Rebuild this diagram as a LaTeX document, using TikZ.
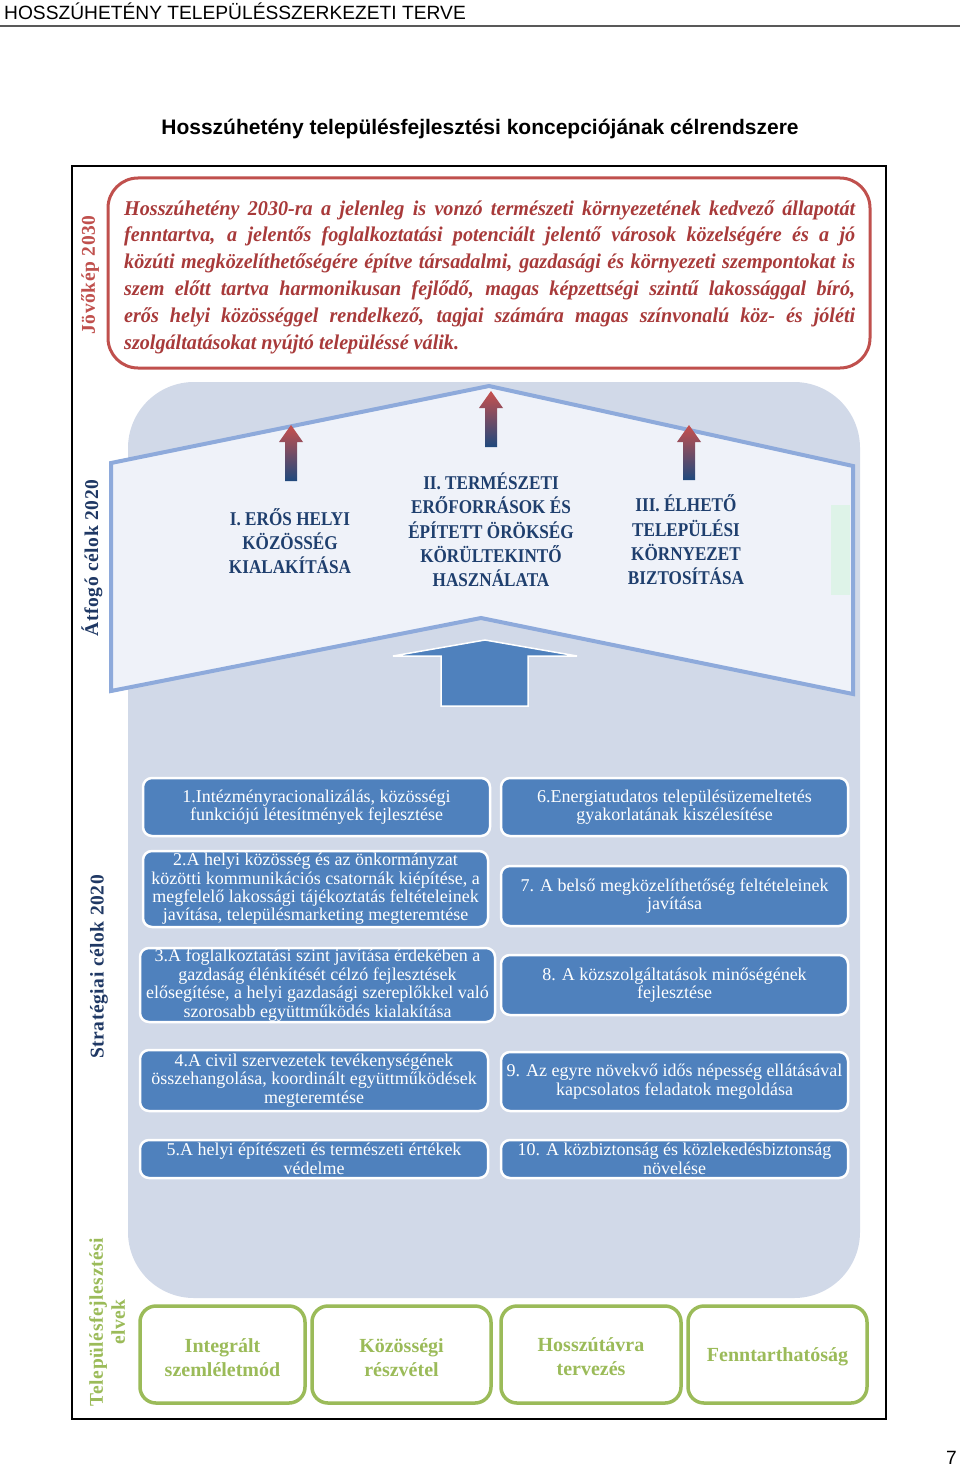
\documentclass[tikz,border=0pt]{standalone}
\usepackage{fontspec}
\setmainfont{Liberation Serif}
\newfontfamily\hdrfont{Liberation Sans}
\newfontfamily\lblfont[LetterSpace=3]{Liberation Serif}
\newfontfamily\objfont[FakeStretch=0.88]{Liberation Serif}
\newfontfamily\visfont[FakeStretch=0.96]{Liberation Serif}
\definecolor{bgblue}{HTML}{D1D9E8}
\definecolor{housefill}{HTML}{EFF2F9}
\definecolor{houseline}{HTML}{8EAADB}
\definecolor{boxblue}{HTML}{4F81BD}
\definecolor{visred}{HTML}{C0504D}
\definecolor{vistext}{HTML}{A83A3A}
\definecolor{navy}{HTML}{1F3F6E}
\definecolor{labnavy}{HTML}{1F3864}
\definecolor{grn}{HTML}{9BBB59}
\definecolor{arrred}{HTML}{C8504D}
\definecolor{arrblue}{HTML}{1F497D}
\begin{document}
\begin{tikzpicture}[x=1pt,y=-1pt,
  hdr/.style={inner sep=0pt, font=\hdrfont\fontsize{19.2}{22}\selectfont},
  ttl/.style={inner sep=0pt, font=\hdrfont\bfseries\fontsize{21}{24}\selectfont},
  lbl/.style={inner sep=0pt, rotate=90, align=center, font=\lblfont\bfseries\fontsize{19.5}{22}\selectfont},
  obj/.style={inner sep=0pt, align=center, text=navy, font=\objfont\bfseries\fontsize{19.5}{24.3}\selectfont},
  sbox/.style={draw=white, line width=2.5pt, fill=boxblue, rounded corners=9pt, text=white, align=center, inner sep=1pt, font=\fontsize{18}{18.4}\selectfont},
  pbox/.style={draw=grn, line width=3.5pt, fill=white, rounded corners=16pt, text=grn, align=center, inner sep=1pt, font=\bfseries\fontsize{20}{24}\selectfont, minimum height=97pt},
  ptext/.style={text=grn, align=center, inner sep=0pt, font=\bfseries\fontsize{20}{24}\selectfont},
  redarr/.style={top color=arrred, bottom color=arrblue}
]
\useasboundingbox (0,0) rectangle (960,1466);
\fill[white] (0,0) rectangle (960,1466);

% header
\node[hdr, anchor=base west] (hdr) at (4,20) {HOSSZÚHETÉNY TELEPÜLÉSSZERKEZETI TERVE};
\draw[black!65, line width=1.2pt] (0,26) -- (960,26);
\node[ttl, anchor=base] (title) at (480,135) {Hosszúhetény településfejlesztési koncepciójának célrendszere};
\node[hdr, anchor=base east] (pg) at (957,1464) {7};

% frame
\draw[line width=1.3pt] (72,166) rectangle (886,1419);

% vision
\draw[visred, line width=3pt, fill=white, rounded corners=30pt] (108,178) rectangle (870,368);
\node[anchor=base west, text width=731pt, align=justify, inner sep=0pt, text=vistext,
      font=\visfont\bfseries\itshape\fontsize{21}{26.8}\selectfont] (vision) at (124,215)
{Hosszúhetény 2030-ra a jelenleg is vonzó természeti környezetének kedvező állapotát\linebreak
fenntartva, a jelentős foglalkoztatási potenciált jelentő városok közelségére és a jó\linebreak
közúti megközelíthetőségére építve társadalmi, gazdasági és környezeti szempontokat is\linebreak
szem előtt tartva harmonikusan fejlődő, magas képzettségi szintű lakossággal bíró,\linebreak
erős helyi közösséggel rendelkező, tagjai számára magas színvonalú köz- és jóléti\linebreak
szolgáltatásokat nyújtó településsé válik.};

% side labels
\node[lbl, text=visred] (lvis) at (90,275) {Jövőkép 2030};
\node[lbl, text=labnavy] (lobj) at (92,558) {Átfogó célok 2020};
\node[lbl, text=labnavy] (lstr) at (99,967) {Stratégiai célok 2020};
\node[lbl, text=grn] (lpri) at (107,1322) {Településfejlesztési\\elvek};

% background
\fill[bgblue, rounded corners=66pt] (128,382) rectangle (860,1298);

% house
\draw[houseline, line width=4pt, fill=housefill, line join=miter]
  (111,463) -- (489,386) -- (853,466) -- (853,694) -- (481,618) -- (111,691) -- cycle;
\fill[green!7!housefill] (831,505) rectangle (850,595);

% red-blue arrows
\foreach \x/\t/\b in {291/425/481, 491/391/447, 689/425/480}{
  \shade[redarr] (\x-6,\b) -- (\x-6,\t+17) -- (\x-12,\t+17) -- (\x,\t) -- (\x+12,\t+17) -- (\x+6,\t+17) -- (\x+6,\b) -- cycle;
}

% overarching objectives
\node[obj] (o1) at (290,541) {I. ERŐS HELYI\\KÖZÖSSÉG\\KIALAKÍTÁSA};
\node[obj] (o2) at (491,530) {II. TERMÉSZETI\\ERŐFORRÁSOK ÉS\\ÉPÍTETT ÖRÖKSÉG\\KÖRÜLTEKINTŐ\\HASZNÁLATA};
\node[obj] (o3) at (686,540) {III. ÉLHETŐ\\TELEPÜLÉSI\\KÖRNYEZET\\BIZTOSÍTÁSA};

% big blue arrow
\draw[white, line width=1.5pt, fill=boxblue, line join=miter]
  (441,706) -- (441,656) -- (393,656) -- (485,640) -- (577,656) -- (528,656) -- (528,706) -- cycle;

% strategic goals
\node[sbox, minimum width=347pt, minimum height=58pt] (s1) at (316.5,807) {1.Intézményracionalizálás, közösségi\\funkciójú létesítmények fejlesztése};
\node[sbox, minimum width=347pt, minimum height=58pt] (s6) at (674.5,807) {6.Energiatudatos településüzemeltetés\\gyakorlatának kiszélesítése};
\node[sbox, minimum width=345pt, minimum height=76pt] (s2) at (315.5,889) {2.A helyi közösség és az önkormányzat\\közötti kommunikációs csatornák kiépítése, a\\megfelelő lakossági tájékoztatás feltételeinek\\javítása, településmarketing megteremtése};
\node[sbox, minimum width=347pt, minimum height=60pt] (s7) at (674.5,896) {7. A belső megközelíthetőség feltételeinek\\javítása};
\node[sbox, minimum width=355pt, minimum height=74pt] (s3) at (317.5,985) {3.A foglalkoztatási szint javítása érdekében a\\gazdaság élénkítését célzó fejlesztések\\elősegítése, a helyi gazdasági szereplőkkel való\\szorosabb együttműködés kialakítása};
\node[sbox, minimum width=347pt, minimum height=60pt] (s8) at (674.5,985) {8. A közszolgáltatások minőségének\\fejlesztése};
\node[sbox, minimum width=348pt, minimum height=61pt] (s4) at (314,1080.5) {4.A civil szervezetek tevékenységének\\összehangolása, koordinált együttműködések\\megteremtése};
\node[sbox, minimum width=347pt, minimum height=59pt] (s9) at (674.5,1081.5) {9. Az egyre növekvő idős népesség ellátásával\\kapcsolatos feladatok megoldása};
\node[sbox, minimum width=348pt, minimum height=38pt] (s5) at (314,1159) {5.A helyi építészeti és természeti értékek\\védelme};
\node[sbox, minimum width=347pt, minimum height=38pt] (s10) at (674.5,1159) {10. A közbiztonság és közlekedésbiztonság\\növelése};

% principles
\node[pbox, minimum width=165pt] (p1) at (222.5,1354.5) {};
\node[pbox, minimum width=179pt] (p2) at (401.5,1354.5) {};
\node[pbox, minimum width=180pt] (p3) at (591,1354.5) {};
\node[pbox, minimum width=179pt] (p4) at (777.5,1354.5) {};
\node[ptext] (t1) at (222.5,1358) {Integrált\\szemléletmód};
\node[ptext] (t2) at (401.5,1358) {Közösségi\\részvétel};
\node[ptext] (t3) at (591,1357) {Hosszútávra\\tervezés};
\node[ptext] (t4) at (777.5,1357) {Fenntarthatóság};
\end{tikzpicture}
\end{document}
